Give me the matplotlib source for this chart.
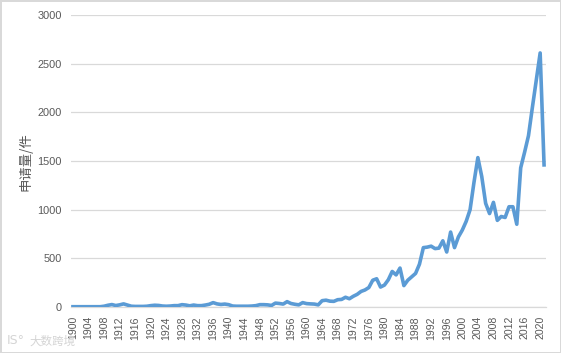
import matplotlib
matplotlib.use("Agg")
import matplotlib.pyplot as plt

plt.rcParams["font.family"] = ["Noto Sans CJK SC", "DejaVu Sans"]

# ── DATA ───────────────────────────────────────────────────────────────────────
years = list(range(1900, 2022))
values = [
    3, 3, 3, 3, 3, 3, 3, 3, 8, 18,            # 1900-1909
    25, 15, 22, 32, 20, 8, 6, 6, 6, 8,        # 1910-1919
    14, 18, 16, 10, 8, 10, 14, 14, 24, 20,    # 1920-1929
    12, 20, 14, 14, 20, 28, 45, 32, 26, 30,   # 1930-1939
    24, 10, 8, 8, 8, 8, 10, 14, 24, 24,       # 1940-1949
    22, 16, 40, 36, 30, 55, 36, 28, 22, 45,   # 1950-1959
    35, 32, 30, 22, 65, 70, 60, 58, 75, 78,   # 1960-1969
    100, 85, 110, 130, 160, 175, 200, 275, 290, 205,  # 1970-1979
    225, 280, 365, 330, 400, 220, 275, 310, 345, 440,  # 1980-1989
    610, 615, 625, 600, 605, 680, 565, 770, 610, 720,  # 1990-1999
    790, 880, 1000, 1280, 1535, 1340, 1065, 960, 1075, 890,  # 2000-2009
    930, 920, 1030, 1030, 850, 1430, 1590, 1760, 2050, 2330,  # 2010-2019
    2610, 1460,                               # 2020-2021
]
y_ticks = [0, 500, 1000, 1500, 2000, 2500, 3000]
x_labels = [str(y) for y in years[::4]]

# ── PLOT ───────────────────────────────────────────────────────────────────────
fig = plt.figure(figsize=(5.61, 3.53), dpi=100, facecolor="white")
ax = fig.add_axes([71 / 561, 1 - 307 / 353, 475 / 561, 292 / 353])

ax.plot(years, values, color="#5B9BD5", linewidth=2.6, solid_joinstyle="round", zorder=3)

ax.set_xlim(1899.5, 2021.5)
ax.set_ylim(0, 3000)
ax.set_yticks(y_ticks)
ax.set_xticks(years[::4])
ax.set_xticklabels(x_labels, rotation=90, fontsize=7.6, color="#595959",
                   family=["Liberation Sans"])
ax.set_yticklabels([str(v) for v in y_ticks], fontsize=7.9, color="#595959",
                   family=["Liberation Sans"])
ax.tick_params(axis="both", length=0)
ax.tick_params(axis="y", pad=6.5)
ax.tick_params(axis="x", pad=6.5)

ax.yaxis.grid(True, color="#D9D9D9", linewidth=0.9)
ax.set_axisbelow(True)
for side in ["top", "right", "left"]:
    ax.spines[side].set_visible(False)
ax.spines["bottom"].set_color("#D9D9D9")
ax.spines["bottom"].set_linewidth(0.9)

fig.text(25 / 561, 1 - 162 / 353, "申请量/件", rotation=90, fontsize=9.6,
         color="#595959", ha="center", va="center")

# watermark
fig.text(7 / 561, 1 - 340 / 353, "IS°", fontsize=9, color="#D4D4D4",
         ha="left", va="center", family=["DejaVu Sans"])
fig.text(29 / 561, 1 - 341 / 353, "大数跨境", fontsize=8.3, color="#D4D4D4",
         ha="left", va="center")

# light frame round the picture
fig.patch.set_edgecolor("#D9D9D9")
fig.patch.set_linewidth(2)

fig.savefig("out.png", dpi=100, facecolor="white", edgecolor="#D9D9D9")
